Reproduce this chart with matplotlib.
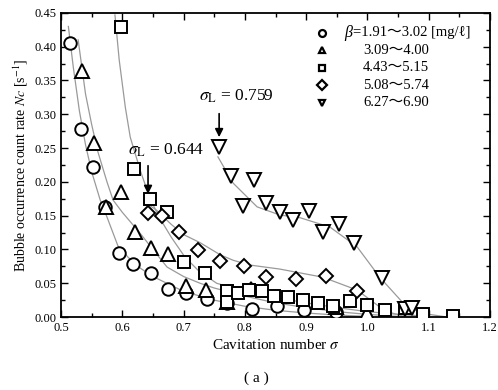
import matplotlib
matplotlib.use("Agg")
import matplotlib.pyplot as plt
from matplotlib.ticker import MultipleLocator

plt.rcParams['font.family'] = ['Liberation Serif', 'Noto Sans CJK JP', 'DejaVu Serif']
plt.rcParams['mathtext.fontset'] = 'stix'

# measured points, one pair of lists per beta range
s1_x = [0.515, 0.533, 0.552, 0.572, 0.595, 0.617, 0.647, 0.675, 0.704, 0.738, 0.771, 0.811, 0.853, 0.897, 0.948]
s1_y = [0.405, 0.278, 0.222, 0.163, 0.095, 0.078, 0.065, 0.041, 0.036, 0.026, 0.021, 0.012, 0.016, 0.010, 0.008]

s2_x = [0.534, 0.554, 0.573, 0.598, 0.621, 0.647, 0.675, 0.704, 0.737, 0.771, 0.810, 0.949, 0.999]
s2_y = [0.364, 0.258, 0.163, 0.185, 0.126, 0.102, 0.094, 0.046, 0.040, 0.022, 0.041, 0.015, 0.006]

s3_x = [0.598, 0.619, 0.645, 0.673, 0.701, 0.735, 0.771, 0.771, 0.789, 0.807, 0.828, 0.848, 0.871,
        0.895, 0.919, 0.944, 0.971, 0.999, 1.029, 1.061, 1.091, 1.140]
s3_y = [0.429, 0.219, 0.175, 0.156, 0.081, 0.065, 0.039, 0.022, 0.035, 0.040, 0.039, 0.031, 0.030,
        0.025, 0.021, 0.016, 0.024, 0.018, 0.010, 0.013, 0.004, 0.001]

s4_x = [0.642, 0.665, 0.693, 0.724, 0.759, 0.799, 0.835, 0.883, 0.932, 0.983]
s4_y = [0.154, 0.149, 0.126, 0.099, 0.083, 0.075, 0.060, 0.056, 0.061, 0.039]

s5_x = [0.758, 0.777, 0.797, 0.815, 0.834, 0.857, 0.878, 0.905, 0.927, 0.953, 0.978, 1.024, 1.061, 1.073]
s5_y = [0.252, 0.209, 0.164, 0.203, 0.169, 0.155, 0.143, 0.157, 0.126, 0.137, 0.110, 0.058, 0.012, 0.013]

# fitted curves
c1_x = [0.512, 0.52, 0.53, 0.54, 0.55, 0.564, 0.575, 0.593, 0.61, 0.63, 0.65, 0.7, 0.75, 0.8, 0.85, 0.9, 0.95, 1.0]
c1_y = [0.43, 0.37, 0.305, 0.255, 0.215, 0.173, 0.148, 0.105, 0.088, 0.072, 0.06, 0.038, 0.025, 0.016, 0.010, 0.006, 0.003, 0.001]

c2_x = [0.528, 0.54, 0.55, 0.56, 0.575, 0.585, 0.6, 0.629, 0.65, 0.673, 0.7, 0.727, 0.75, 0.8, 0.85, 0.9, 0.95, 1.0, 1.05]
c2_y = [0.41, 0.33, 0.285, 0.245, 0.2, 0.173, 0.155, 0.124, 0.1, 0.074, 0.06, 0.05, 0.043, 0.031, 0.021, 0.014, 0.008, 0.004, 0.001]

c3_x = [0.588, 0.595, 0.605, 0.613, 0.63, 0.645, 0.66, 0.68, 0.702, 0.725, 0.754, 0.8, 0.85, 0.9, 0.95, 1.0, 1.05, 1.1]
c3_y = [0.447, 0.38, 0.31, 0.266, 0.215, 0.176, 0.148, 0.118, 0.089, 0.068, 0.05, 0.038, 0.029, 0.021, 0.014, 0.008, 0.004, 0.001]

c4_x = [0.645, 0.656, 0.68, 0.7, 0.727, 0.76, 0.781, 0.808, 0.857, 0.927, 0.983, 1.02, 1.04, 1.06]
c4_y = [0.165, 0.158, 0.137, 0.122, 0.11, 0.092, 0.084, 0.077, 0.071, 0.059, 0.040, 0.015, 0.006, 0.001]

c5_x = [0.756, 0.781, 0.82, 0.857, 0.89, 0.939, 0.983, 1.02, 1.058, 1.086, 1.13]
c5_y = [0.237, 0.198, 0.163, 0.151, 0.147, 0.133, 0.104, 0.059, 0.021, 0.006, 0.0]

labels = ['1.91\uff5e3.02', '3.09\uff5e4.00', '4.43\uff5e5.15', '5.08\uff5e5.74', '6.27\uff5e6.90']
markers = ['o', '^', 's', 'D', 'v']
sizes = [9, 9.5, 8.5, 7.2, 9.5]

fig = plt.figure(figsize=(4.98, 3.9), dpi=100)
ax = fig.add_axes([0.1225, 0.187, 0.8615, 0.78])

for cx, cy in [(c1_x, c1_y), (c2_x, c2_y), (c3_x, c3_y), (c4_x, c4_y), (c5_x, c5_y)]:
    ax.plot(cx, cy, color='#9a9a9a', lw=0.9, zorder=1)

series = [(s1_x, s1_y), (s2_x, s2_y), (s3_x, s3_y), (s4_x, s4_y), (s5_x, s5_y)]
for (sx, sy), m, ms in zip(series, markers, sizes):
    ax.plot(sx, sy, ls='none', marker=m, ms=ms, mfc='white', mec='black', mew=1.4, zorder=3)

# legend drawn by hand so the labels line up like the original
for i, (m, lab) in enumerate(zip(markers, labels)):
    yy = 0.934 - i * 0.0575
    ax.plot([0.608], [yy], transform=ax.transAxes, marker=m, ms=5, mfc='white',
            mec='black', mew=1.6, ls='none', clip_on=False)
    if i == 0:
        ax.text(0.66, yy, '\u03b2', transform=ax.transAxes, ha='left', va='center',
                fontsize=11.5, style='italic')
        ax.text(0.681, yy, '=' + lab + ' [mg/\u2113]', transform=ax.transAxes,
                ha='left', va='center', fontsize=10.5)
    else:
        ax.text(0.781, yy, lab, transform=ax.transAxes, ha='center', va='center', fontsize=10.5)

# lower critical cavitation numbers
ax.text(0.671, 0.247, r'$\sigma_{\rm L}$ = 0.644', ha='center', va='center', fontsize=12.5)
ax.annotate('', xy=(0.642, 0.178), xytext=(0.642, 0.228),
            arrowprops=dict(arrowstyle='-|>', color='black', lw=1.2, mutation_scale=12))
ax.text(0.785, 0.326, r'$\sigma_{\rm L}$ = 0.759', ha='center', va='center', fontsize=12.5)
ax.annotate('', xy=(0.758, 0.262), xytext=(0.758, 0.305),
            arrowprops=dict(arrowstyle='-|>', color='black', lw=1.2, mutation_scale=12))

ax.set_xlim(0.5, 1.2)
ax.set_ylim(0, 0.45)
ax.xaxis.set_major_locator(MultipleLocator(0.1))
ax.xaxis.set_minor_locator(MultipleLocator(0.05))
ax.yaxis.set_major_locator(MultipleLocator(0.05))
ax.yaxis.set_minor_locator(MultipleLocator(0.025))
ax.xaxis.set_major_formatter(plt.FuncFormatter(lambda v, p: f'{v:.1f}'))
ax.yaxis.set_major_formatter(plt.FuncFormatter(lambda v, p: f'{v:.2f}'))
ax.tick_params(which='both', direction='in', top=True, right=True, labelsize=9, width=1)
ax.tick_params(which='major', length=5)
ax.tick_params(which='minor', length=3)
for sp in ax.spines.values():
    sp.set_linewidth(1.3)

ax.set_xlabel(r'Cavitation number $\sigma$', fontsize=11, labelpad=3)
ax.set_ylabel(r'Bubble occurrence count rate $\mathit{Nc}$ [s$^{-1}$]', fontsize=10, labelpad=3)
fig.text(0.515, 0.03, '( a )', ha='center', va='center', fontsize=11)

fig.savefig('out.png', dpi=100)
